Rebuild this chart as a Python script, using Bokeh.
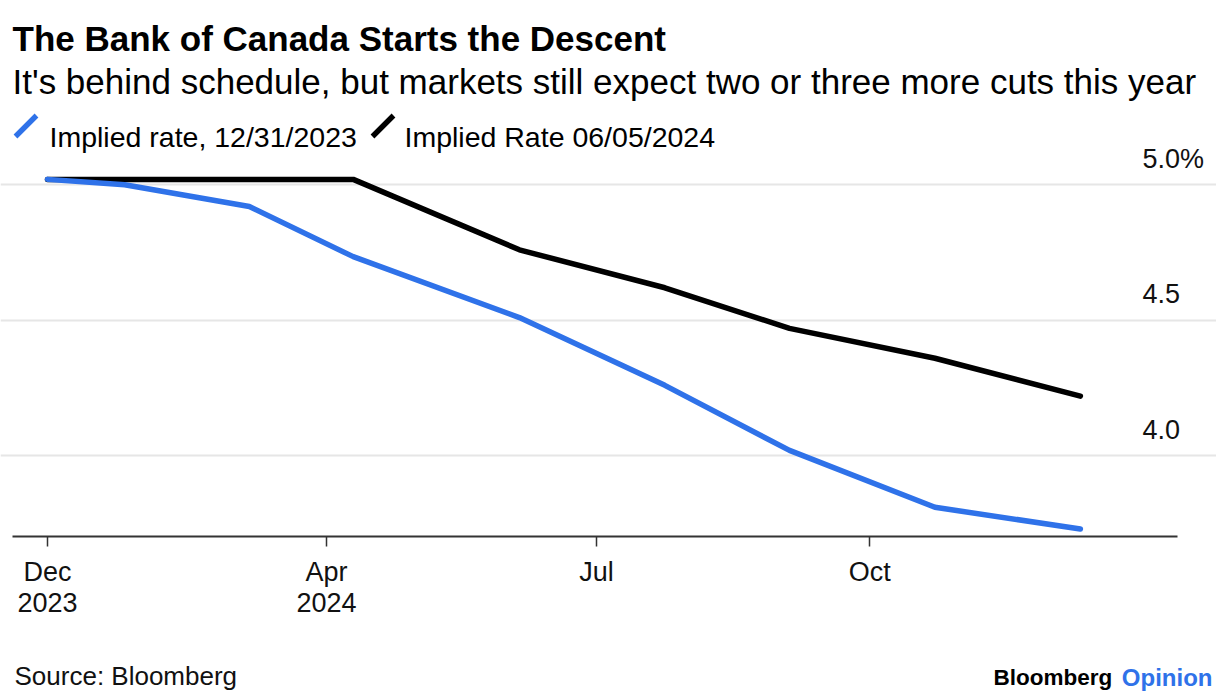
import pandas as pd
from bokeh.plotting import figure
from bokeh.models import (FixedTicker, Range1d, Label, LabelSet, ColumnDataSource,
                          PolyAnnotation, Grid)
from bokeh.core.properties import value
from bokeh.embed import file_html
from bokeh.resources import INLINE

# ---------------- data ----------------
dates = ["2023-12-29", "2024-01-24", "2024-03-06", "2024-04-10", "2024-06-05",
         "2024-07-24", "2024-09-04", "2024-10-23", "2024-12-11"]
implied_dec31 = [5.02, 5.00, 4.92, 4.735, 4.51, 4.26, 4.02, 3.81, 3.73]
implied_jun05 = [5.02, 5.02, 5.02, 5.02, 4.76, 4.62, 4.47, 4.36, 4.22]
series_names = ["Implied rate, 12/31/2023", "Implied Rate 06/05/2024"]
x_tick_dates = ["2023-12-29", "2024-04-01", "2024-07-01", "2024-10-01"]
x_tick_labels = ["Dec\n2023", "Apr\n2024", "Jul", "Oct"]
y_ticks = [4.0, 4.5, 5.0]
y_tick_labels = ["4.0", "4.5", "5.0%"]

title = "The Bank of Canada Starts the Descent"
subtitle = "It's behind schedule, but markets still expect two or three more cuts this year"
source_note = "Source: Bloomberg"

BLUE = "#2F72E9"
FONT = "Liberation Sans"

EPOCH = pd.Timestamp("2023-12-01")
def day(s):
    return (pd.Timestamp(s) - EPOCH).days

xs = [day(d) for d in dates]
xt = [day(d) for d in x_tick_dates]

# ---------------- layout (canvas px) ----------------
W, H = 1216, 694
PX_PER_DAY = 2.968
FIRST_X_PX = 47
PX_PER_UNIT = 271.0
Y5_PX = 184.3
AXIS_PX = 536

def x_of(px):
    return xs[0] + (px - FIRST_X_PX) / PX_PER_DAY

def y_of(py):
    return 5.0 - (py - Y5_PX) / PX_PER_UNIT

p = figure(width=W, height=H, output_backend="svg", toolbar_location=None,
           x_range=Range1d(x_of(0), x_of(W)),
           y_range=Range1d(y_of(H), y_of(0)),
           y_axis_location=None,
           min_border=0, min_border_left=0, min_border_right=0,
           min_border_top=0, min_border_bottom=0)
if p.title is not None:
    p.title.visible = False
p.outline_line_color = None
p.background_fill_color = "white"
p.border_fill_color = "white"

# grid: upper lines run to the right edge, the lowest one stops earlier
p.xgrid.visible = False
p.ygrid.ticker = FixedTicker(ticks=y_ticks[1:])
p.ygrid.grid_line_color = "#e6e6e6"
p.ygrid.grid_line_width = 2
p.ygrid.bounds = (x_of(12), x_of(1179))
p.add_layout(Grid(dimension=1, ticker=FixedTicker(ticks=y_ticks[:1]),
                  grid_line_color="#e6e6e6", grid_line_width=2,
                  bounds=(x_of(12), x_of(1130))))

# x axis, fixed at the bottom of the plotting area
ax = p.xaxis[0]
ax.fixed_location = y_of(AXIS_PX)
ax.bounds = (x_of(12), x_of(1177))
ax.ticker = FixedTicker(ticks=xt)
ax.major_label_overrides = {t: l for t, l in zip(xt, x_tick_labels)}
ax.axis_line_color = "#333333"
ax.axis_line_width = 2
ax.major_tick_line_color = "#333333"
ax.major_tick_line_width = 1.5
ax.major_tick_out = 10
ax.major_tick_in = 0
ax.minor_tick_line_color = None
ax.major_label_text_font = FONT
ax.major_label_text_font_size = "27px"
ax.major_label_text_color = "#111111"
ax.major_label_text_line_height = 1.05
ax.major_label_standoff = 10

# lines
src = ColumnDataSource(dict(x=xs, a=implied_dec31, b=implied_jun05))
p.line("x", "b", source=src, line_color="black", line_width=5.5,
       line_join="round", line_cap="round")
p.line("x", "a", source=src, line_color=BLUE, line_width=5.5,
       line_join="round", line_cap="round")

# y labels (above grid lines, on the right)
ysrc = ColumnDataSource(dict(y=y_ticks, text=y_tick_labels))
p.add_layout(LabelSet(x=1142, y="y", text="text", source=ysrc, x_units="screen",
                      y_offset=17, text_baseline="alphabetic", text_align="left",
                      text_font=value(FONT), text_font_size="27px",
                      text_color="#111111"))

def lab(text, px, py, size, color="#000000", bold=False, align="left"):
    p.add_layout(Label(x=px, y=H - py, x_units="screen", y_units="screen",
                       text=text, text_font=FONT, text_font_size=size,
                       text_color=color, text_align=align,
                       text_baseline="alphabetic",
                       text_font_style="bold" if bold else "normal"))

lab(title, 12, 38, "35px", bold=True)
lab(subtitle, 12, 81, "35px")

# legend
def slash(x0, color):
    ax0, ay0, ax1, ay1 = x0, 136, x0 + 21, 115
    t = 2.7
    xs_ = [ax0 - t * 0.7, ax0 + t * 0.7, ax1 + t * 0.7, ax1 - t * 0.7]
    ys_ = [ay0 - t * 0.7, ay0 + t * 0.7, ay1 + t * 0.7, ay1 - t * 0.7]
    p.add_layout(PolyAnnotation(xs=xs_, ys=[H - y for y in ys_],
                                xs_units="screen", ys_units="screen",
                                fill_color=color, fill_alpha=1.0, line_color=None))

slash(15, BLUE)
lab(series_names[0], 49, 136, "28.5px")
slash(372, "black")
lab(series_names[1], 404, 136, "28.5px")

# footer
lab(source_note, 14, 675, "26px", color="#111111")
lab("Bloomberg", 993, 677, "22.5px", bold=True)
lab("Opinion", 1212, 677, "24px", color=BLUE, bold=True, align="right")

open("out.html", "w").write(file_html(p, INLINE))
